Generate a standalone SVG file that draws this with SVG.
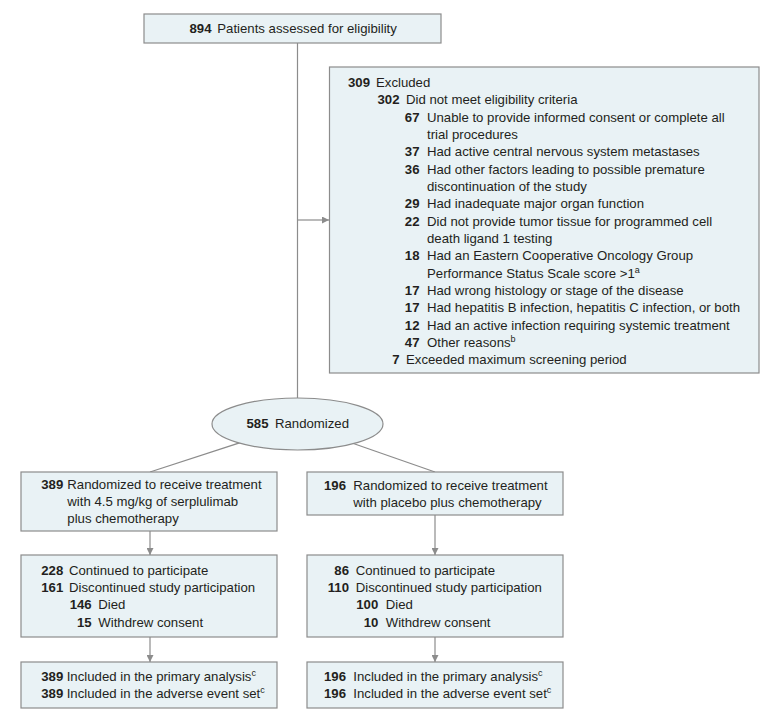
<svg xmlns="http://www.w3.org/2000/svg" width="780" height="721" viewBox="0 0 780 721">
<style>
.box{fill:#e9f2f5;stroke:#8c8c8c;stroke-width:1.2}
.ln{fill:none;stroke:#8c8c8c;stroke-width:1.2}
text{font-family:"Liberation Sans",Arial,sans-serif;font-size:13.2px;fill:#231f20}
.n{font-weight:bold;text-anchor:end}
.sup{font-size:9px}
</style>
<defs>
<marker id="ah" markerUnits="userSpaceOnUse" markerWidth="8" markerHeight="7" refX="7" refY="3.5" orient="auto">
<path d="M0,0 L7,3.5 L0,7 z" fill="#8c8c8c"/>
</marker>
</defs>
<rect width="780" height="721" fill="#ffffff"/>
<g id="connectors">
<line class="ln" x1="297.5" y1="43" x2="297.5" y2="398"/>
<line class="ln" x1="297.5" y1="220" x2="329" y2="220" marker-end="url(#ah)"/>
<line class="ln" x1="297.5" y1="424" x2="150" y2="472"/>
<line class="ln" x1="297.5" y1="424" x2="435" y2="472"/>
<line class="ln" x1="150" y1="531" x2="150" y2="555" marker-end="url(#ah)"/>
<line class="ln" x1="150" y1="637" x2="150" y2="662" marker-end="url(#ah)"/>
<line class="ln" x1="435" y1="515" x2="435" y2="555" marker-end="url(#ah)"/>
<line class="ln" x1="435" y1="637" x2="435" y2="662" marker-end="url(#ah)"/>
</g>
<g id="assessed">
<rect class="box" x="144" y="14" width="297" height="29"/>
<text class="n" x="211.5" y="33.3">894</text>
<text x="217.3" y="33.3">Patients assessed for eligibility</text>
</g>
<g id="excluded">
<rect class="box" x="329.5" y="67" width="429.5" height="306"/>
<text class="n" x="370" y="87.1">309</text><text x="376" y="87.1">Excluded</text>
<text class="n" x="399.5" y="104.4">302</text><text x="406" y="104.4">Did not meet eligibility criteria</text>
<text class="n" x="419.5" y="121.8">67</text><text x="427" y="121.8">Unable to provide informed consent or complete all</text>
<text x="427" y="139.1">trial procedures</text>
<text class="n" x="419.5" y="156.4">37</text><text x="427" y="156.4">Had active central nervous system metastases</text>
<text class="n" x="419.5" y="173.8">36</text><text x="427" y="173.8">Had other factors leading to possible premature</text>
<text x="427" y="191.1">discontinuation of the study</text>
<text class="n" x="419.5" y="208.4">29</text><text x="427" y="208.4">Had inadequate major organ function</text>
<text class="n" x="419.5" y="225.7">22</text><text x="427" y="225.7">Did not provide tumor tissue for programmed cell</text>
<text x="427" y="243.1">death ligand 1 testing</text>
<text class="n" x="419.5" y="260.4">18</text><text x="427" y="260.4">Had an Eastern Cooperative Oncology Group</text>
<text x="427" y="277.7">Performance Status Scale score &gt;1<tspan class="sup" dy="-5">a</tspan></text>
<text class="n" x="419.5" y="295.1">17</text><text x="427" y="295.1">Had wrong histology or stage of the disease</text>
<text class="n" x="419.5" y="312.4">17</text><text x="427" y="312.4">Had hepatitis B infection, hepatitis C infection, or both</text>
<text class="n" x="419.5" y="329.7">12</text><text x="427" y="329.7">Had an active infection requiring systemic treatment</text>
<text class="n" x="419.5" y="347.1">47</text><text x="427" y="347.1">Other reasons<tspan class="sup" dy="-5">b</tspan></text>
<text class="n" x="399.5" y="364.4">7</text><text x="406" y="364.4">Exceeded maximum screening period</text>
</g>
<g id="randomized">
<ellipse class="box" cx="297.5" cy="424" rx="85.5" ry="26"/>
<text class="n" x="268.5" y="427.5">585</text>
<text x="275" y="427.5">Randomized</text>
</g>
<g id="arm-serplulimab">
<rect class="box" x="21" y="472" width="256" height="59"/>
<text class="n" x="63.3" y="488.8">389</text><text x="67.3" y="488.8">Randomized to receive treatment</text>
<text x="67.3" y="506.1">with 4.5 mg/kg of serplulimab</text>
<text x="67.3" y="523.4">plus chemotherapy</text>
</g>
<g id="arm-placebo">
<rect class="box" x="307" y="472" width="256" height="43"/>
<text class="n" x="346" y="489.8">196</text><text x="353.3" y="489.8">Randomized to receive treatment</text>
<text x="353.3" y="507.1">with placebo plus chemotherapy</text>
</g>
<g id="followup-serplulimab">
<rect class="box" x="21" y="555" width="256" height="82"/>
<text class="n" x="63.3" y="574.6">228</text><text x="69" y="574.6">Continued to participate</text>
<text class="n" x="63.3" y="591.9">161</text><text x="69" y="591.9">Discontinued study participation</text>
<text class="n" x="91.7" y="609.3">146</text><text x="98.3" y="609.3">Died</text>
<text class="n" x="91.7" y="626.6">15</text><text x="98.3" y="626.6">Withdrew consent</text>
</g>
<g id="followup-placebo">
<rect class="box" x="307" y="555" width="256" height="82"/>
<text class="n" x="349" y="574.6">86</text><text x="355.7" y="574.6">Continued to participate</text>
<text class="n" x="349" y="591.9">110</text><text x="355.7" y="591.9">Discontinued study participation</text>
<text class="n" x="378.3" y="609.3">100</text><text x="385.7" y="609.3">Died</text>
<text class="n" x="378.3" y="626.6">10</text><text x="385.7" y="626.6">Withdrew consent</text>
</g>
<g id="analysis-serplulimab">
<rect class="box" x="21" y="662" width="256" height="46"/>
<text class="n" x="63.3" y="680.9">389</text><text x="66.7" y="680.9">Included in the primary analysis<tspan class="sup" dy="-5">c</tspan></text>
<text class="n" x="63.3" y="698.2">389</text><text x="66.7" y="698.2">Included in the adverse event set<tspan class="sup" dy="-5">c</tspan></text>
</g>
<g id="analysis-placebo">
<rect class="box" x="307" y="662" width="256" height="46"/>
<text class="n" x="346" y="680.9">196</text><text x="353.3" y="680.9">Included in the primary analysis<tspan class="sup" dy="-5">c</tspan></text>
<text class="n" x="346" y="698.2">196</text><text x="353.3" y="698.2">Included in the adverse event set<tspan class="sup" dy="-5">c</tspan></text>
</g>
</svg>
